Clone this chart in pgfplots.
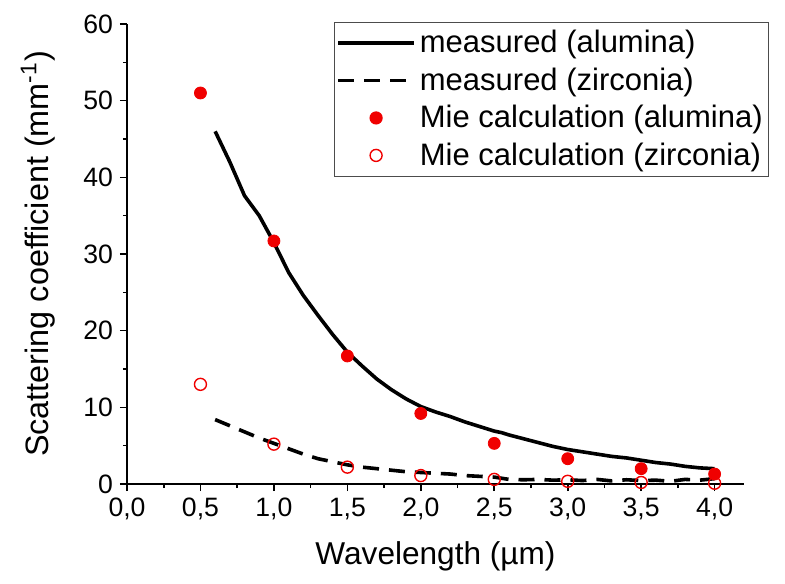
\documentclass[border=0pt]{standalone}
\usepackage{pgfplots}
\pgfplotsset{compat=1.18}
\usepackage{fontspec}
\setmainfont{Liberation Sans}
\definecolor{miered}{RGB}{240,0,0}
\pgfplotsset{
  lineleg/.style={legend image code/.code={\draw[##1] (0pt,0pt) -- (38pt,0pt);}},
  markleg/.style={legend image code/.code={\draw[##1] plot coordinates {(19pt,0pt)};}},
}
\begin{document}
\begin{tikzpicture}
\begin{axis}[
  scale only axis,
  width=308.5pt, height=230pt,
  xmin=0, xmax=4.2, ymin=0, ymax=60,
  axis x line*=bottom, axis y line*=left,
  axis line style={-, line width=1pt},
  xtick={0,0.5,...,4.0},
  minor xtick={0.25,0.75,...,4.0},
  ytick={0,10,...,60},
  minor ytick={5,15,...,55},
  tick align=outside,
  major tick length=3.5pt, minor tick length=2pt,
  every tick/.style={black, line width=0.8pt},
  x tick label style={/pgf/number format/.cd, fixed, fixed zerofill, precision=1, use comma, assume math mode=true},
  y tick label style={/pgf/number format/.cd, assume math mode=true},
  tick label style={font=\fontsize{13.3}{15}\selectfont},
  xlabel={Wavelength (µm)},
  ylabel={Scattering coefficient (mm\textsuperscript{-1})},
  xlabel style={font=\fontsize{15.8}{17}\selectfont, yshift=-4pt},
  ylabel style={font=\fontsize{16.2}{18}\selectfont, yshift=7pt},
  clip=false,
  legend style={at={(0.335,1.005)}, anchor=north west, draw=black!70, line width=0.6pt,
    font=\fontsize{15.5}{18}\selectfont, row sep=2pt, inner xsep=1pt, inner ysep=2pt},
  legend cell align=left,
]
\addplot[black, line width=1.8pt, lineleg] coordinates {
(0.6,46) (0.7,42) (0.8,37.6) (0.9,35) (1.0,31.5) (1.1,27.6) (1.2,24.6) (1.3,22)
(1.4,19.5) (1.5,17.2) (1.6,15.4) (1.7,13.7) (1.8,12.3) (1.9,11.1) (2.0,10.1)
(2.1,9.4) (2.2,8.8) (2.3,8.1) (2.4,7.5) (2.5,6.9) (2.55,6.7) (2.6,6.4) (2.7,5.9)
(2.8,5.4) (2.9,4.9) (3.0,4.5) (3.1,4.2) (3.2,3.9) (3.3,3.6) (3.4,3.4) (3.5,3.1)
(3.6,2.8) (3.7,2.6) (3.8,2.3) (3.9,2.1) (4.0,2.0)};
\addlegendentry{measured (alumina)}
\addplot[black, line width=1.8pt, dash pattern=on 8pt off 5pt, lineleg] coordinates {
(0.6,8.4) (0.7,7.6) (0.8,6.8) (0.9,6.0) (1.0,5.3) (1.1,4.6) (1.2,3.9) (1.3,3.3)
(1.4,2.9) (1.5,2.5) (1.6,2.2) (1.7,2.0) (1.8,1.8) (1.9,1.6) (2.0,1.5) (2.1,1.4)
(2.2,1.3) (2.3,1.1) (2.4,1.0) (2.5,0.9) (2.6,0.6) (2.7,0.55) (2.8,0.6) (2.9,0.5)
(3.0,0.55) (3.1,0.45) (3.2,0.6) (3.3,0.4) (3.4,0.55) (3.5,0.45) (3.6,0.5)
(3.7,0.35) (3.8,0.6) (3.9,0.5) (4.0,0.7)};
\addlegendentry{measured (zirconia)}
\addplot[only marks, mark=*, mark size=3pt, mark options={fill=miered, draw=miered}, markleg] coordinates {
(0.5,51) (1.0,31.7) (1.5,16.7) (2.0,9.2) (2.5,5.3) (3.0,3.3) (3.5,2.0) (4.0,1.3)};
\addlegendentry{Mie calculation (alumina)}
\addplot[only marks, mark=o, mark size=3pt, mark options={fill=white, draw=miered, line width=0.7pt}, markleg] coordinates {
(0.5,13) (1.0,5.2) (1.5,2.2) (2.0,1.1) (2.5,0.6) (3.0,0.35) (3.5,0.2) (4.0,0.1)};
\addlegendentry{Mie calculation (zirconia)}
\end{axis}
\path ([xshift=-63.5pt,yshift=-49.5pt]current axis.south west) rectangle ([xshift=20.5pt,yshift=12pt]current axis.north east);
\end{tikzpicture}
\end{document}
